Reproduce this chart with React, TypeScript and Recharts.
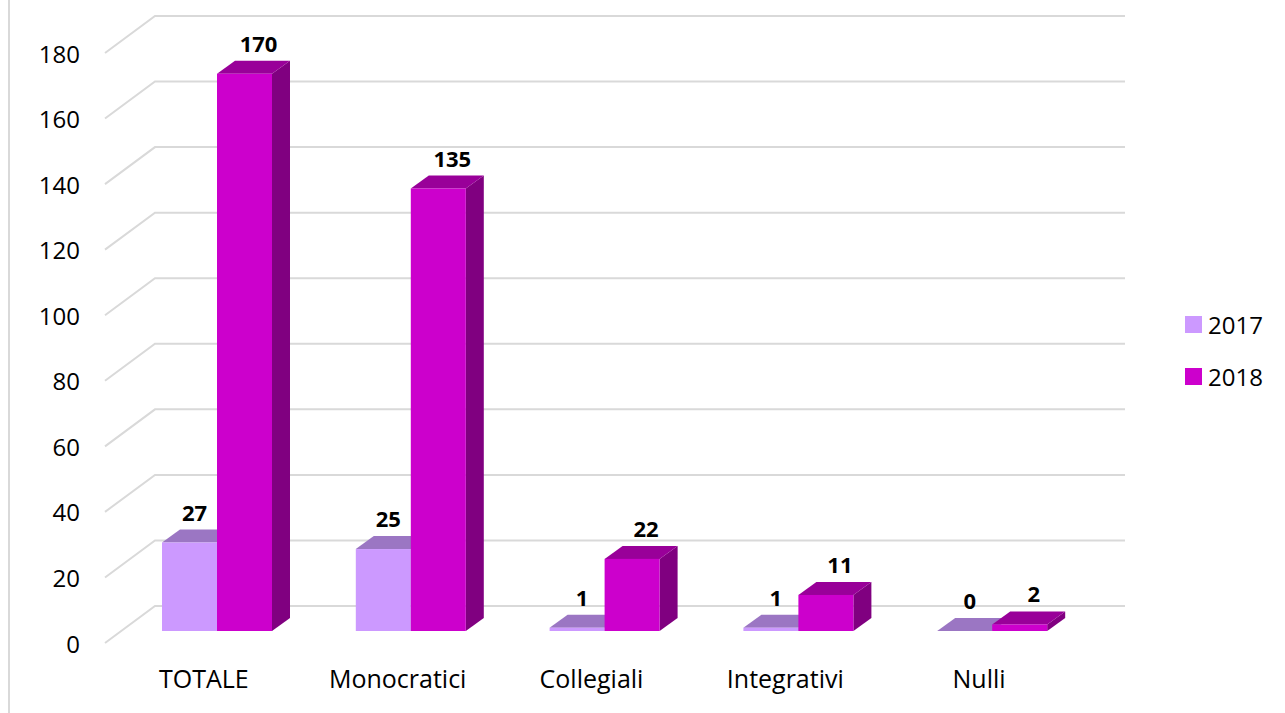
import React from 'react';
import { BarChart, Bar, XAxis, YAxis, CartesianGrid, Legend, LabelList } from 'recharts';

const categories = ['TOTALE', 'Monocratici', 'Collegiali', 'Integrativi', 'Nulli'];
const values2017 = [27, 25, 1, 1, 0];
const values2018 = [170, 135, 22, 11, 2];
const yTicks = [0, 20, 40, 60, 80, 100, 120, 140, 160, 180];

const data = categories.map((name, i) => ({ name, y2017: values2017[i], y2018: values2018[i] }));

const FONT = "'Open Sans', 'Noto Sans', sans-serif";
const DX = 18;
const DY = -13;

const series = [
  { key: 'y2017', name: '2017', front: '#CC99FF', top: '#9B76C3', side: '#8A64B0', labelShift: 5 },
  { key: 'y2018', name: '2018', front: '#CC00CC', top: '#990099', side: '#800080', labelShift: 14 },
];

// fake 3d column: front face + top + right side
const make3dShape = (front: string, top: string, side: string) => (props: any) => {
  const { x, y, width, height } = props;
  if (x == null || y == null) return null;
  const h = Math.max(0, height || 0);
  const w = width;
  return (
    <g>
      <polygon
        points={`${x + w},${y} ${x + w + DX},${y + DY} ${x + w + DX},${y + h + DY} ${x + w},${y + h}`}
        fill={side}
      />
      <polygon points={`${x},${y} ${x + DX},${y + DY} ${x + w + DX},${y + DY} ${x + w},${y}`} fill={top} />
      {h > 0 && <rect x={x} y={y} width={w} height={h} fill={front} />}
    </g>
  );
};

const gridLine = (props: any) => {
  const { x1, x2, y1 } = props;
  return (
    <path
      key={`grid-${y1}`}
      d={`M${x1 - 15},${y1 + 12} L${x1 + 35},${y1 - 25} L${x2 + 36},${y1 - 25}`}
      stroke="#d9d9d9"
      strokeWidth={2}
      fill="none"
    />
  );
};

const YTick = ({ y, payload }: any) => (
  <text x={80} y={y + 12} textAnchor="end" dominantBaseline="central" fontFamily={FONT} fontSize={24} fill="#000">
    {payload.value}
  </text>
);

const XTick = ({ x, y, payload }: any) => (
  <text x={x - 13} y={y + 49} textAnchor="middle" fontFamily={FONT} fontSize={25} fill="#000">
    {payload.value}
  </text>
);

const makeLabel = (shift: number) => (props: any) => {
  const { x, y, width, value } = props;
  return (
    <text
      x={x + width / 2 + shift}
      y={y - 22}
      textAnchor="middle"
      fontFamily={FONT}
      fontWeight="bold"
      fontSize={22}
      fill="#000"
    >
      {value}
    </text>
  );
};

const LegendContent = () => (
  <div style={{ fontFamily: FONT, fontSize: 24, color: '#000' }}>
    {series.map((s) => (
      <div key={s.key} style={{ display: 'flex', alignItems: 'center', height: 52 }}>
        <span style={{ width: 17, height: 17, background: s.front, display: 'inline-block', marginRight: 6 }} />
        <span>{s.name}</span>
      </div>
    ))}
  </div>
);

export default function App() {
  return (
    <div style={{ position: 'absolute', left: 0, top: 0, width: 1285, height: 713, background: '#fff' }}>
      <div style={{ position: 'absolute', left: 8, top: 0, width: 2, height: 713, background: '#d9d9d9' }} />
      <BarChart
        width={1285}
        height={713}
        data={data}
        margin={{ top: 41, right: 96, bottom: 0, left: 0 }}
        barGap={0}
        barSize={55}
      >
        <CartesianGrid vertical={false} horizontal={gridLine} />
        <XAxis dataKey="name" axisLine={false} tickLine={false} height={82} tick={<XTick />} interval={0} />
        <YAxis
          domain={[0, 180]}
          ticks={yTicks}
          interval={0}
          width={120}
          axisLine={false}
          tickLine={false}
          tick={<YTick />}
        />
        <Legend
          layout="vertical"
          verticalAlign="top"
          align="right"
          content={<LegendContent />}
          wrapperStyle={{ left: 1185, top: 298, width: 100 }}
        />
        {series.map((s) => (
          <Bar
            key={s.key}
            dataKey={s.key}
            name={s.name}
            fill={s.front}
            isAnimationActive={false}
            shape={make3dShape(s.front, s.top, s.side)}
          >
            <LabelList dataKey={s.key} content={makeLabel(s.labelShift)} />
          </Bar>
        ))}
      </BarChart>
    </div>
  );
}
